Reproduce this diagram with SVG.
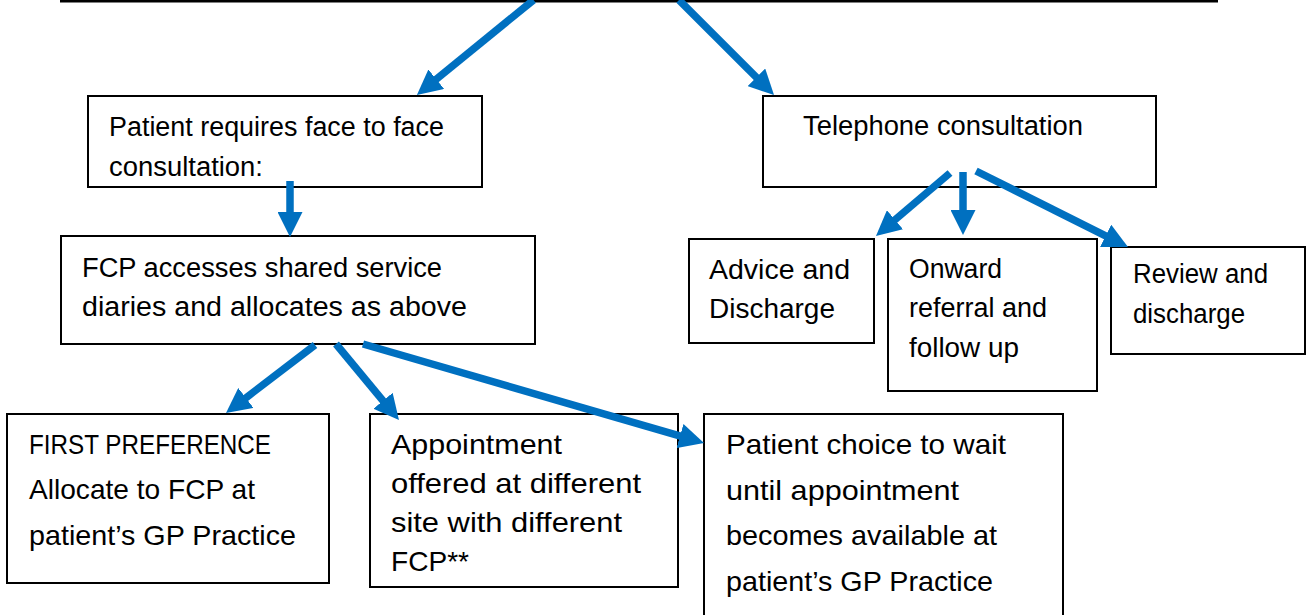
<svg xmlns="http://www.w3.org/2000/svg" width="1307" height="615" viewBox="0 0 1307 615">
<style>
.box{fill:#fff;stroke:#000;stroke-width:2}
.t{font-family:"Liberation Sans",Arial,sans-serif;font-size:27px;fill:#000}
.tb{font-family:"Liberation Sans",Arial,sans-serif;font-size:28.5px;fill:#000}
.c{stroke:#0070C0;stroke-width:7.5;fill:none;marker-end:url(#ah)}
</style>
<defs>
<marker id="ah" markerUnits="userSpaceOnUse" markerWidth="25" markerHeight="25" viewBox="0 0 25 25" refX="5" refY="12.5" orient="auto">
<path d="M0,0 L25,12.5 L0,25 z" fill="#0070C0"/>
</marker>
</defs>
<g id="topline"><rect x="60" y="0" width="1158" height="2.5" fill="#000"/></g>
<g id="n1"><rect class="box" x="88" y="96" width="394" height="91"/>
<text class="t" x="109" y="136" textLength="335" lengthAdjust="spacingAndGlyphs">Patient requires face to face</text>
<text class="t" x="109" y="176" textLength="154" lengthAdjust="spacingAndGlyphs">consultation:</text></g>
<g id="n2"><rect class="box" x="763" y="96" width="393" height="91"/>
<text class="t" x="803" y="135" textLength="280" lengthAdjust="spacingAndGlyphs">Telephone consultation</text></g>
<g id="n3"><rect class="box" x="61" y="236" width="474" height="108"/>
<text class="t" x="82" y="277" textLength="360" lengthAdjust="spacingAndGlyphs">FCP accesses shared service</text>
<text class="t" x="82" y="316" textLength="385" lengthAdjust="spacingAndGlyphs">diaries and allocates as above</text></g>
<g id="n4"><rect class="box" x="689" y="239" width="185" height="104"/>
<text class="t" x="709" y="279" textLength="141" lengthAdjust="spacingAndGlyphs">Advice and</text>
<text class="t" x="709" y="318" textLength="126" lengthAdjust="spacingAndGlyphs">Discharge</text></g>
<g id="n5"><rect class="box" x="888" y="239" width="209" height="152"/>
<text class="t" x="909" y="278" textLength="93" lengthAdjust="spacingAndGlyphs">Onward</text>
<text class="t" x="909" y="317" textLength="138" lengthAdjust="spacingAndGlyphs">referral and</text>
<text class="t" x="909" y="357" textLength="110" lengthAdjust="spacingAndGlyphs">follow up</text></g>
<g id="n6"><rect class="box" x="1111" y="247" width="194" height="107"/>
<text class="t" x="1133" y="283" textLength="135" lengthAdjust="spacingAndGlyphs">Review and</text>
<text class="t" x="1133" y="323" textLength="112" lengthAdjust="spacingAndGlyphs">discharge</text></g>
<g id="n7"><rect class="box" x="7" y="414" width="322" height="169"/>
<text class="tb" x="29" y="454" textLength="242" lengthAdjust="spacingAndGlyphs">FIRST PREFERENCE</text>
<text class="tb" x="29" y="499" textLength="226" lengthAdjust="spacingAndGlyphs">Allocate to FCP at</text>
<text class="tb" x="29" y="545" textLength="267" lengthAdjust="spacingAndGlyphs">patient’s GP Practice</text></g>
<g id="n8"><rect class="box" x="370" y="414" width="308" height="173"/>
<text class="tb" x="391" y="454" textLength="171" lengthAdjust="spacingAndGlyphs">Appointment</text>
<text class="tb" x="391" y="493" textLength="250" lengthAdjust="spacingAndGlyphs">offered at different</text>
<text class="tb" x="391" y="532" textLength="231" lengthAdjust="spacingAndGlyphs">site with different</text>
<text class="tb" x="391" y="571" textLength="78" lengthAdjust="spacingAndGlyphs">FCP**</text></g>
<g id="n9"><rect class="box" x="704" y="414" width="359" height="220"/>
<text class="tb" x="726" y="454" textLength="280" lengthAdjust="spacingAndGlyphs">Patient choice to wait</text>
<text class="tb" x="726" y="500" textLength="233" lengthAdjust="spacingAndGlyphs">until appointment</text>
<text class="tb" x="726" y="545" textLength="271" lengthAdjust="spacingAndGlyphs">becomes available at</text>
<text class="tb" x="726" y="591" textLength="267" lengthAdjust="spacingAndGlyphs">patient’s GP Practice</text></g>
<g id="connectors">
<line class="c" x1="533.5" y1="0" x2="432.4" y2="82.3"/>
<line class="c" x1="679" y1="0" x2="759.9" y2="80.9"/>
<line class="c" x1="290" y1="181" x2="290" y2="217"/>
<line class="c" x1="950" y1="173" x2="891.2" y2="223"/>
<line class="c" x1="963" y1="172" x2="963" y2="215"/>
<line class="c" x1="976" y1="171" x2="1110.1" y2="238.1"/>
<line class="c" x1="315" y1="345" x2="241.9" y2="400.9"/>
<line class="c" x1="336" y1="344" x2="386.2" y2="404.6"/>
<line class="c" x1="363" y1="344" x2="684.8" y2="437.4"/>
</g>
</svg>
